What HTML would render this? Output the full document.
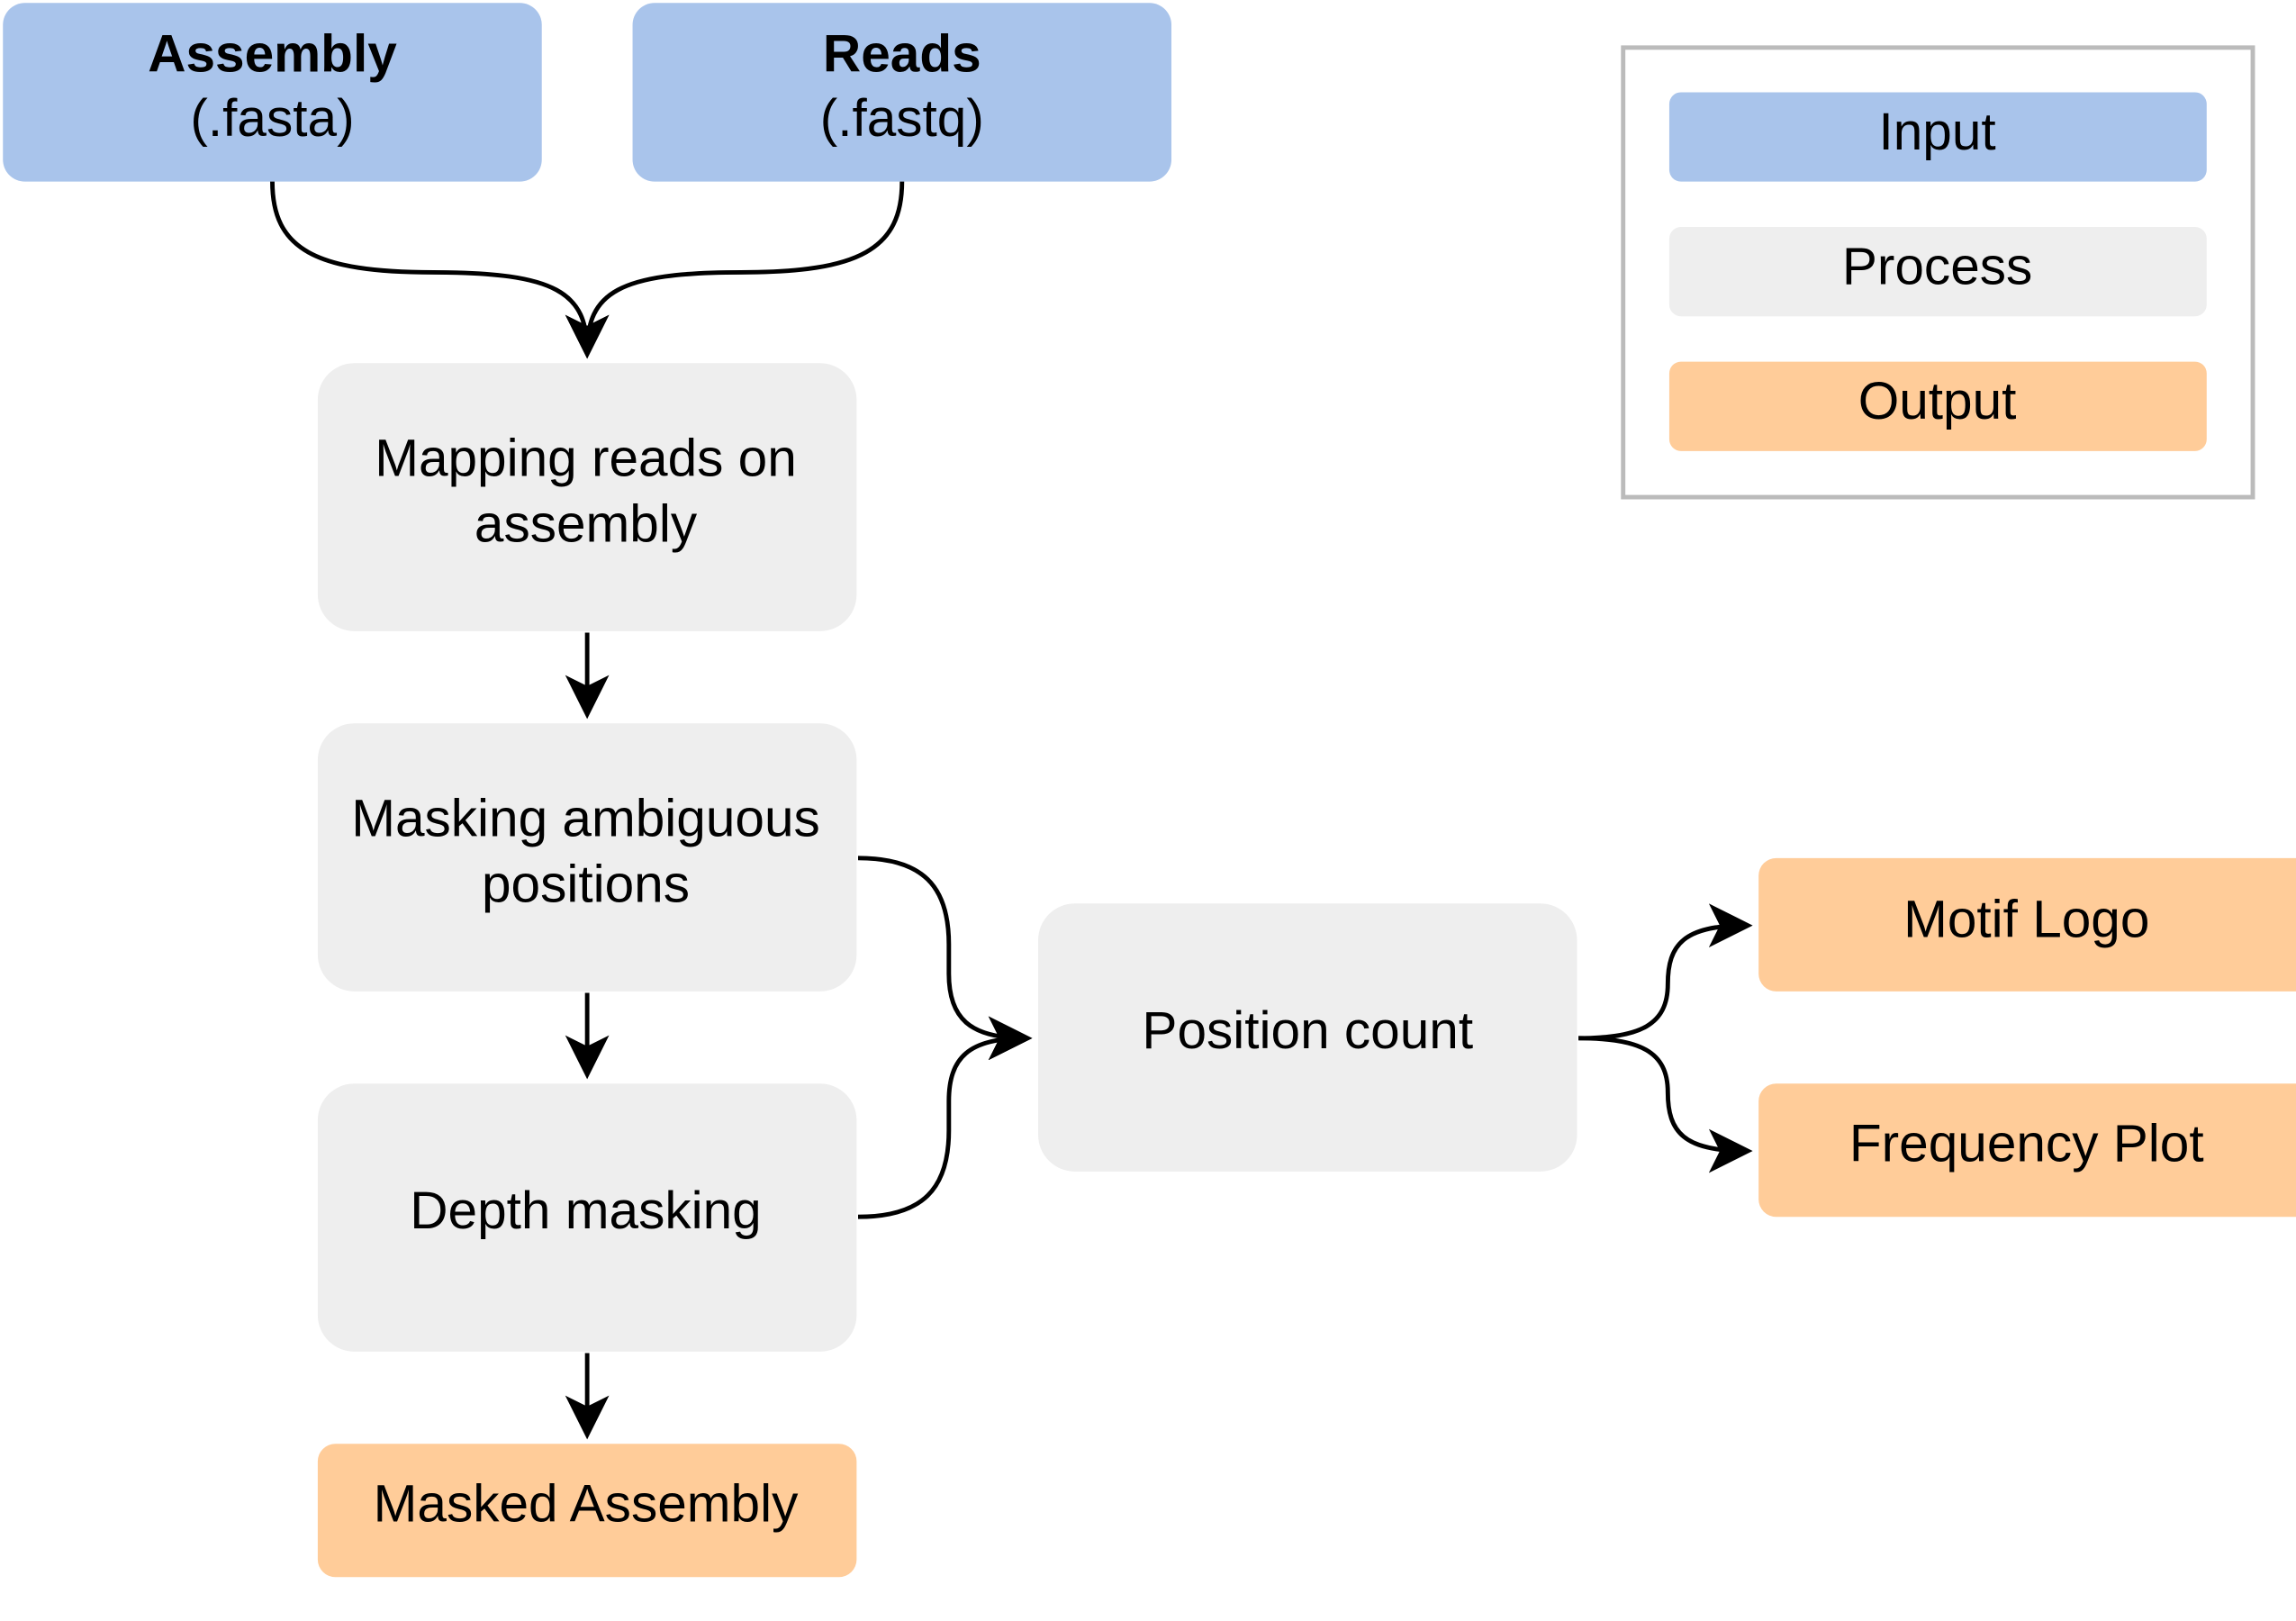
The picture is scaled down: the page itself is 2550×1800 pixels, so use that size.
<!DOCTYPE html>
<html><head><meta charset="utf-8"><style>
html,body{margin:0;padding:0;background:#fff;}
svg{display:block;}
text{font-family:"Liberation Sans",sans-serif;font-size:36px;fill:#000;text-anchor:middle;}
</style></head><body>
<svg width="2550" height="1800" viewBox="0 0 1568 1107" preserveAspectRatio="none">
<defs>
<marker id="a" markerUnits="userSpaceOnUse" markerWidth="30" markerHeight="30" refX="20" refY="12" orient="auto" viewBox="0 0 24 24">
<path d="M0,0 L24,12 L0,24 L6,12 Z" fill="#000"/>
</marker>
</defs>
<!-- inputs -->
<rect x="2" y="2" width="368" height="122" rx="15" fill="#a9c4eb"/>
<text x="186" y="49" font-weight="bold">Assembly</text>
<text x="186" y="93">(.fasta)</text>
<rect x="432" y="2" width="368" height="122" rx="15" fill="#a9c4eb"/>
<text x="616" y="49" font-weight="bold">Reads</text>
<text x="616" y="93">(.fastq)</text>
<!-- legend -->
<rect x="1108.5" y="32.5" width="430" height="307" fill="none" stroke="#bbbbbb" stroke-width="3"/>
<rect x="1140" y="63" width="367" height="61" rx="8" fill="#a9c4eb"/>
<text x="1323" y="102">Input</text>
<rect x="1140" y="155" width="367" height="61" rx="8" fill="#eeeeee"/>
<text x="1323" y="194">Process</text>
<rect x="1140" y="247" width="367" height="61" rx="8" fill="#ffcc99"/>
<text x="1323" y="286">Output</text>
<!-- process -->
<rect x="217" y="248" width="368" height="183" rx="25" fill="#eeeeee"/>
<text x="400" y="325">Mapping reads on</text>
<text x="400" y="370">assembly</text>
<rect x="217" y="494" width="368" height="183" rx="25" fill="#eeeeee"/>
<text x="400" y="571">Masking ambiguous</text>
<text x="400" y="616">positions</text>
<rect x="217" y="740" width="368" height="183" rx="25" fill="#eeeeee"/>
<text x="400" y="839">Depth masking</text>
<rect x="217" y="986" width="368" height="91" rx="12" fill="#ffcc99"/>
<text x="400" y="1039">Masked Assembly</text>
<rect x="709" y="617" width="368" height="183" rx="25" fill="#eeeeee"/>
<text x="893" y="716">Position count</text>
<rect x="1201" y="586" width="380" height="91" rx="12" fill="#ffcc99"/>
<text x="1384" y="640">Motif Logo</text>
<rect x="1201" y="740" width="380" height="91" rx="12" fill="#ffcc99"/>
<text x="1384" y="793">Frequency Plot</text>
<!-- connectors -->
<g fill="none" stroke="#000" stroke-width="3" marker-end="url(#a)">
<path d="M186,124 C186,170 215,186 296,186 C380,186 401,200 401,240"/>
<path d="M616,124 C616,170 587,186 506,186 C422,186 401,200 401,240"/>
<path d="M401,432 L401,486"/>
<path d="M401,678 L401,732"/>
<path d="M401,924 L401,978"/>
<path d="M586,586 C630,586 648,605 648,645 L648,665 C648,695 662,709 700,709"/>
<path d="M586,831 C630,831 648,812 648,772 L648,752 C648,722 662,709 700,709"/>
<path d="M1078,709 C1120,709 1139,700 1139,672 C1139,645 1150,632 1192,632"/>
<path d="M1078,709 C1120,709 1139,718 1139,746 C1139,773 1150,786 1192,786"/>
</g>
</svg>
</body></html>
